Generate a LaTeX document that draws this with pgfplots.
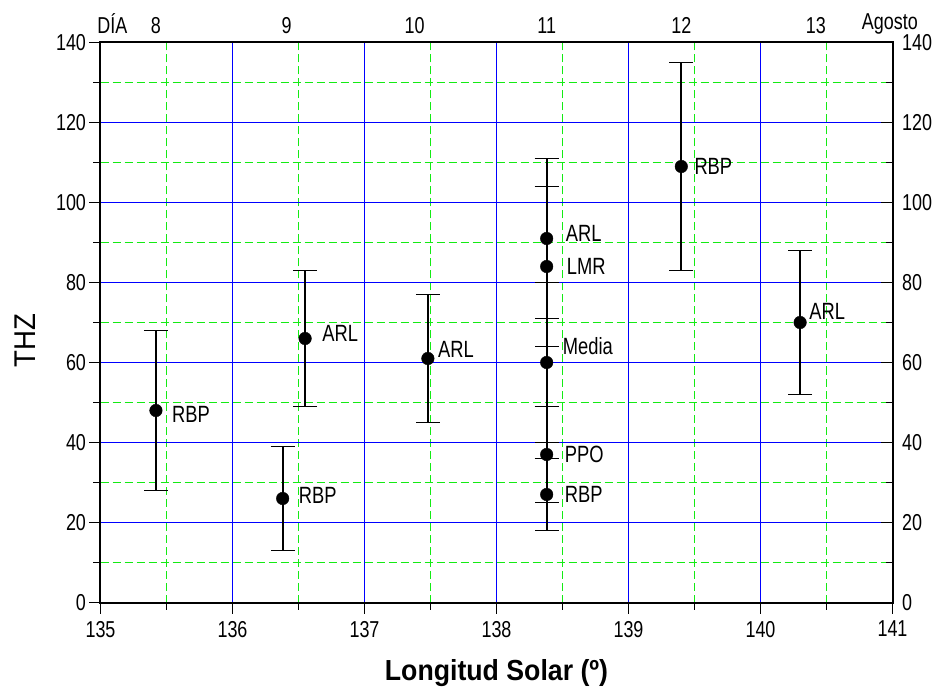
\documentclass[border=0pt]{standalone}
\usepackage{fontspec}
\setmainfont[FakeStretch=0.78]{Liberation Sans}
\newfontfamily\labfont[FakeStretch=0.92]{Liberation Sans}
\usepackage{pgfplots}
\usepackage{pgfplotstable}
\pgfplotsset{compat=1.18}
\definecolor{gridblue}{RGB}{0,0,255}
\definecolor{gridgreen}{RGB}{20,235,20}
\pgfplotstableread{
x y ep em
135.42 48 20 20
136.38 26 13 13
136.55 66 17 17
137.48 61 16 16
138.38 91 20 20
138.38 84 20 20
138.38 60 20 20
138.38 37 12 12
138.38 27 9 9
139.40 109 26 26
140.30 70 18 18
}\datatab
\newcommand\lab{\fontsize{23.5}{25}\selectfont}
\begin{document}
\begin{tikzpicture}
\pgfplotsset{
 base/.style={width=792pt,height=560pt,scale only axis,
  xmin=135,xmax=141,ymin=0,ymax=140,
  /pgf/number format/assume math mode=true,
  tick label style={font=\fontsize{23}{25}\selectfont},
  axis line style={line width=2pt,black},
  tick style={line width=1.5pt,black},
 }
}
% grid only
\begin{axis}[base,
 xtick={135,...,141}, minor xtick={135.5,136.5,137.5,138.5,139.5,140.5},
 ytick={0,20,...,140}, minor ytick={10,30,...,130},
 xticklabels={}, yticklabels={},
 major tick length=0pt, minor tick length=0pt,
 axis line style={draw=none},
 grid=both,
 major grid style={draw=gridblue,line width=1pt,solid},
 minor grid style={draw=gridgreen,line width=1pt,dash pattern=on 8pt off 4pt},
]
\end{axis}
\begin{axis}[base,name=main,
 xtick={135,...,141}, minor xtick={135.5,136.5,137.5,138.5,139.5,140.5},
 ytick={0,20,...,140}, minor ytick={10,30,...,130},
 xtick pos=bottom, ytick pos=left, tick align=outside,
 major tick length=11pt, minor tick length=7pt,
 xticklabel style={yshift=-4pt},
 xlabel={\labfont\bfseries Longitud Solar (º)},
 ylabel={\labfont THZ},
 xlabel style={font=\fontsize{29}{31}\selectfont,yshift=-15pt},
 ylabel style={font=\fontsize{30}{32}\selectfont,yshift=14pt,xshift=-18pt},
]
\addplot+[only marks, mark=*, mark size=6.3pt, black, mark options={fill=black,solid},
 error bars/.cd, y dir=both, y explicit,
 error bar style={line width=1.8pt,black,solid},
 error mark options={rotate=90,mark size=12pt,line width=1.8pt,black}]
 table[x=x,y=y,y error plus=ep,y error minus=em]{\datatab};
\node[anchor=west,inner sep=0,font=\lab,xshift=16pt,yshift=-4pt] at (axis cs:135.42,48) {RBP};
\node[anchor=west,inner sep=0,font=\lab,xshift=16pt,yshift=3pt] at (axis cs:136.38,26) {RBP};
\node[anchor=west,inner sep=0,font=\lab,xshift=17pt,yshift=5pt] at (axis cs:136.55,66) {ARL};
\node[anchor=west,inner sep=0,font=\lab,xshift=10pt,yshift=9pt] at (axis cs:137.48,61) {ARL};
\node[anchor=west,inner sep=0,font=\lab,xshift=19pt,yshift=5pt] at (axis cs:138.38,91) {ARL};
\node[anchor=west,inner sep=0,font=\lab,xshift=20pt] at (axis cs:138.38,84) {LMR};
\node[anchor=west,inner sep=0,font=\lab,xshift=16pt,yshift=16pt] at (axis cs:138.38,60) {Media};
\node[anchor=west,inner sep=0,font=\lab,xshift=18pt] at (axis cs:138.38,37) {PPO};
\node[anchor=west,inner sep=0,font=\lab,xshift=18pt] at (axis cs:138.38,27) {RBP};
\node[anchor=west,inner sep=0,font=\lab,xshift=13pt] at (axis cs:139.40,109) {RBP};
\node[anchor=west,inner sep=0,font=\lab,xshift=9pt,yshift=11pt] at (axis cs:140.30,70) {ARL};
\end{axis}
\begin{axis}[base, axis x line=none, axis y line*=right,
 ytick={0,20,...,140}, minor ytick={10,30,...,130},
 tick align=inside, yticklabel pos=right,
 yticklabel style={xshift=6pt},
 major tick length=12pt, minor tick length=7pt]
\end{axis}
\begin{axis}[base, axis y line=none, axis x line*=top,
 xtick={135.09,135.42,136.41,137.38,138.38,139.40,140.42,140.98},
 xticklabels={DÍA,8,9,10,11,12,13,Agosto},
 xticklabel style={yshift=5pt},
 major tick length=0pt, xticklabel pos=top]
\end{axis}
\path (main.south west) ++(-100.5pt,-85.5pt) rectangle ++(949pt,688pt);
\end{tikzpicture}
\end{document}
